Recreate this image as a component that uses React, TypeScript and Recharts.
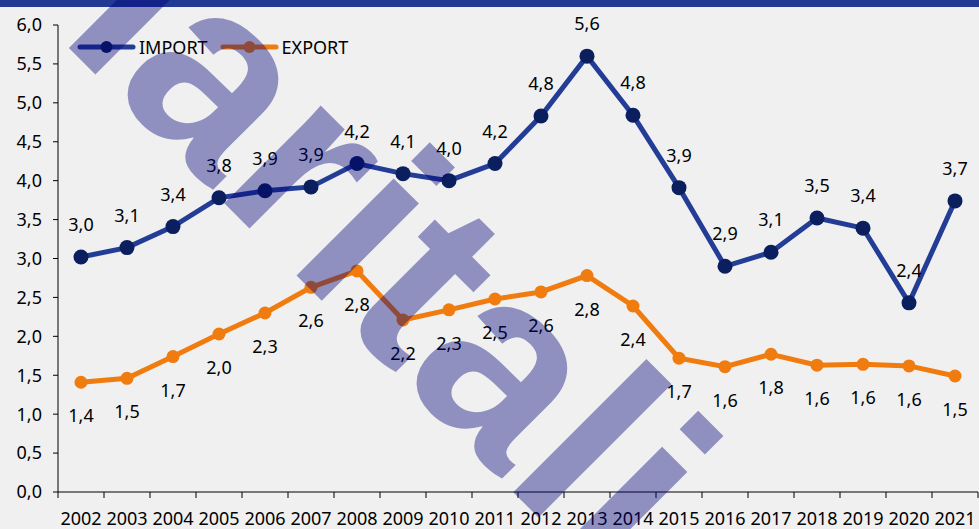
import React from 'react';
import { LineChart, Line, XAxis, YAxis, Legend, LabelList } from 'recharts';

const years = ['2002', '2003', '2004', '2005', '2006', '2007', '2008', '2009', '2010', '2011',
    '2012', '2013', '2014', '2015', '2016', '2017', '2018', '2019', '2020', '2021'];
const importValues = [3.02, 3.14, 3.41, 3.78, 3.87, 3.92, 4.22, 4.09, 4.0, 4.22,
    4.83, 5.6, 4.84, 3.91, 2.9, 3.08, 3.52, 3.39, 2.43, 3.74];
const exportValues = [1.41, 1.46, 1.74, 2.03, 2.3, 2.63, 2.84, 2.21, 2.34, 2.48,
    2.57, 2.78, 2.39, 1.72, 1.61, 1.77, 1.63, 1.64, 1.62, 1.49];
const yTicks = [0, 0.5, 1, 1.5, 2, 2.5, 3, 3.5, 4, 4.5, 5, 5.5, 6];

const W = 979;
const H = 529;
const FONT = '"Noto Sans", sans-serif';
const IMPORT_LINE = '#233d96';
const IMPORT_DOT = '#0b1f5e';
const EXPORT_LINE = '#f07c10';
const BG = '#f0f0f0';

const data = years.map((y, i) => ({ year: y, import: importValues[i], export: exportValues[i] }));

const fmt = (v: number) => v.toFixed(1).replace('.', ',');

// half of one category band, ticks sit between categories like in Excel
const HALF_BAND = (W - 58 - 1) / years.length / 2;

const XTick = (props: any) => {
    const { x, y, payload, index } = props;
    return (
        <g>
            <line x1={x - HALF_BAND} y1={y - 6} x2={x - HALF_BAND} y2={y} stroke="#000" />
            {index === years.length - 1 && (
                <line x1={x + HALF_BAND} y1={y - 6} x2={x + HALF_BAND} y2={y} stroke="#000" />
            )}
            <text x={x} y={y + 27} textAnchor="middle" fontSize={18} fontFamily={FONT} fill="#000">
                {payload.value}
            </text>
        </g>
    );
};

const importLabel = (props: any) => {
    const { x, y, value } = props;
    return (
        <text x={x} y={y - 26} textAnchor="middle" fontSize={18} fontFamily={FONT} fill="#000">
            {fmt(value)}
        </text>
    );
};

const exportLabel = (props: any) => {
    const { x, y, value } = props;
    return (
        <text x={x} y={y + 40} textAnchor="middle" fontSize={18} fontFamily={FONT} fill="#000">
            {fmt(value)}
        </text>
    );
};

const renderLegend = () => {
    const items = [
        { name: 'IMPORT', line: IMPORT_LINE, dot: IMPORT_DOT },
        { name: 'EXPORT', line: EXPORT_LINE, dot: EXPORT_LINE },
    ];
    return (
        <div style={{ display: 'flex', alignItems: 'center', fontFamily: FONT, fontSize: 18, color: '#000' }}>
            {items.map((it) => (
                <div key={it.name} style={{ display: 'flex', alignItems: 'center', marginRight: 12 }}>
                    <svg width={60} height={24}>
                        <line x1={3} y1={12} x2={56} y2={12} stroke={it.line} strokeWidth={5} strokeLinecap="round" />
                        <circle cx={29.5} cy={12} r={6} fill={it.dot} />
                    </svg>
                    <span style={{ marginLeft: 2, lineHeight: '24px' }}>{it.name}</span>
                </div>
            ))}
        </div>
    );
};

export default function App() {
    return (
        <div style={{ position: 'fixed', left: 0, top: 0, width: W, height: H, background: BG, overflow: 'hidden' }}>
            <LineChart width={W} height={H} data={data} margin={{ top: 25, right: 1, bottom: 0, left: 0 }}>
                <XAxis
                    dataKey="year"
                    height={37}
                    interval={0}
                    padding={{ left: HALF_BAND, right: HALF_BAND }}
                    axisLine={{ stroke: '#000' }}
                    tickLine={false}
                    tickSize={6}
                    tickMargin={0}
                    tick={<XTick />}
                />
                <YAxis
                    width={58}
                    domain={[0, 6]}
                    ticks={yTicks}
                    interval={0}
                    tickFormatter={fmt}
                    axisLine={{ stroke: '#000' }}
                    tickLine={{ stroke: '#000' }}
                    tickSize={5}
                    tickMargin={11}
                    tick={{ fontSize: 18, fontFamily: FONT, fill: '#000' }}
                />
                <Legend
                    layout="vertical"
                    verticalAlign="middle"
                    align="center"
                    wrapperStyle={{ top: 35, left: 77, width: 320, height: 24 }}
                    content={renderLegend}
                />
                <Line
                    type="linear"
                    dataKey="import"
                    name="IMPORT"
                    stroke={IMPORT_LINE}
                    strokeWidth={5}
                    dot={{ r: 7.5, fill: IMPORT_DOT, stroke: IMPORT_DOT, strokeWidth: 0 }}
                    isAnimationActive={false}
                >
                    <LabelList dataKey="import" content={importLabel} />
                </Line>
                <Line
                    type="linear"
                    dataKey="export"
                    name="EXPORT"
                    stroke={EXPORT_LINE}
                    strokeWidth={5}
                    dot={{ r: 6.5, fill: EXPORT_LINE, stroke: EXPORT_LINE, strokeWidth: 0 }}
                    isAnimationActive={false}
                >
                    <LabelList dataKey="export" content={exportLabel} />
                </Line>
            </LineChart>
            <svg width={W} height={H} style={{ position: 'absolute', left: 0, top: 0, pointerEvents: 'none' }}>
                <rect x={0} y={0} width={W} height={7} fill="#213a94" />
                <text
                    transform="translate(-25,-46) rotate(45)"
                    fontFamily='"Liberation Sans", sans-serif'
                    fontWeight="bold"
                    fontSize={260}
                    letterSpacing={1}
                    fill="#000078"
                    fillOpacity={0.4}
                >
                    Haritali
                </text>
            </svg>
        </div>
    );
}
